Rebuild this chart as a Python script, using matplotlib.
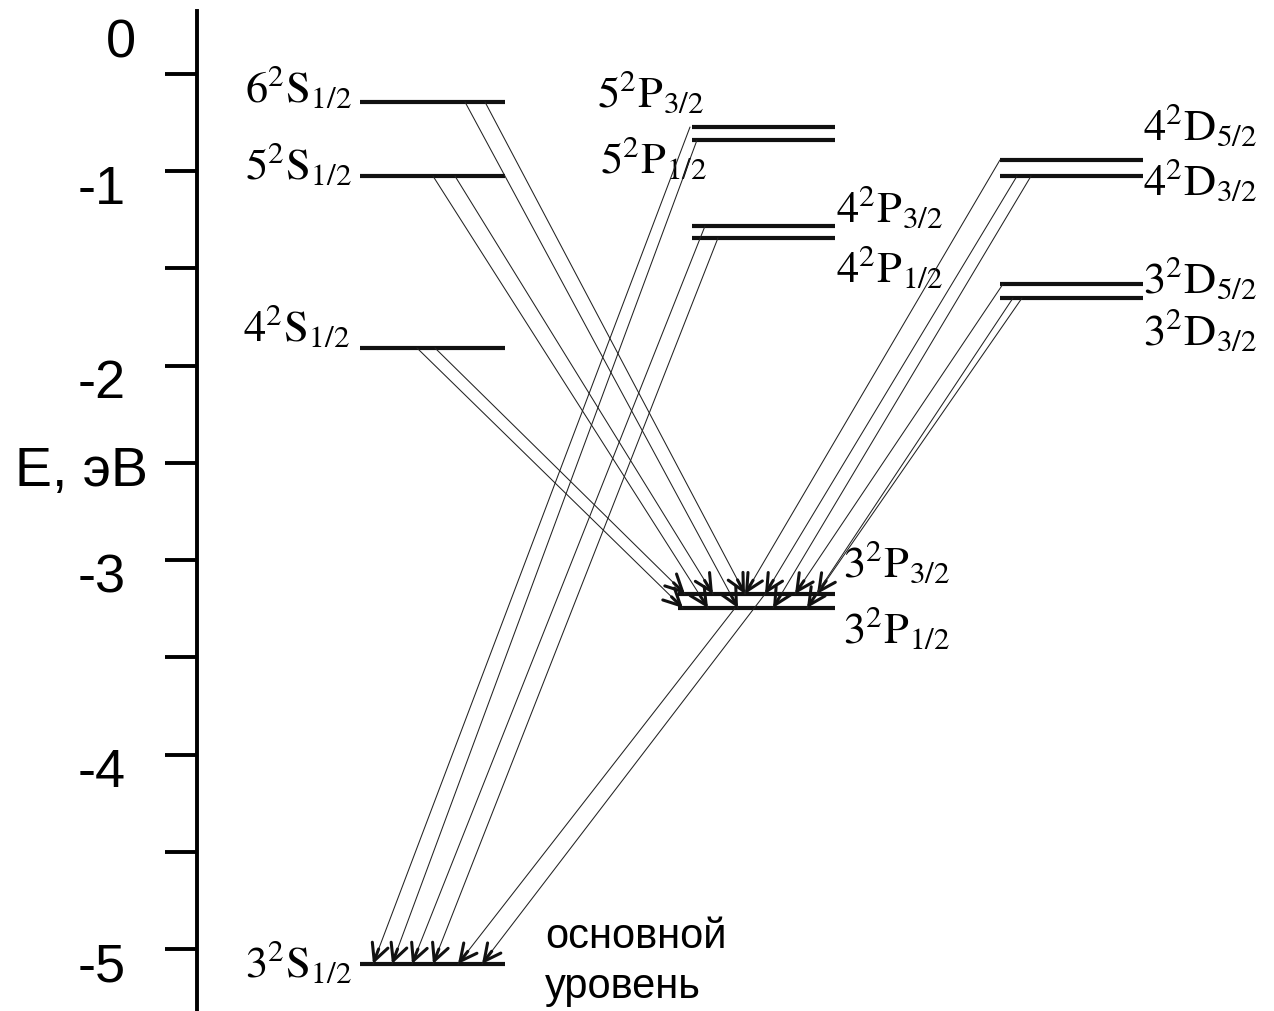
import matplotlib.pyplot as plt
from matplotlib.transforms import ScaledTranslation
import numpy as np

plt.rcParams['mathtext.fontset'] = 'stix'
plt.rcParams['font.family'] = ['Liberation Sans', 'DejaVu Sans']

# Na energy levels, eV
level_names = ['3S', '4S', '5S', '6S',
               '3P32', '3P12', '4P32', '4P12', '5P32', '5P12',
               '3D52', '3D32', '4D52', '4D32']
level_energy = [-5.077, -1.910, -1.026, -0.645,
                -3.175, -3.247, -1.283, -1.344, -0.774, -0.841,
                -1.581, -1.653, -0.943, -1.026]
level_labels = [r'$3^2\mathrm{S}_{1/2}$', r'$4^2\mathrm{S}_{1/2}$',
                r'$5^2\mathrm{S}_{1/2}$', r'$6^2\mathrm{S}_{1/2}$',
                r'$3^2\mathrm{P}_{3/2}$', r'$3^2\mathrm{P}_{1/2}$',
                r'$4^2\mathrm{P}_{3/2}$', r'$4^2\mathrm{P}_{1/2}$',
                r'$5^2\mathrm{P}_{3/2}$', r'$5^2\mathrm{P}_{1/2}$',
                r'$3^2\mathrm{D}_{5/2}$', r'$3^2\mathrm{D}_{3/2}$',
                r'$4^2\mathrm{D}_{5/2}$', r'$4^2\mathrm{D}_{3/2}$']

# radiative transitions: upper level -> lower level
trans_upper = ['6S', '6S', '5S', '5S', '4S', '4S',
               '4D52', '4D32', '4D32', '3D52', '3D32', '3D32',
               '5P32', '5P12', '4P32', '4P12', '3P32', '3P12']
trans_lower = ['3P32', '3P12', '3P32', '3P12', '3P32', '3P12',
               '3P32', '3P32', '3P12', '3P32', '3P32', '3P12',
               '3S', '3S', '3S', '3S', '3S', '3S']

major_ticks = [-1, -2, -3, -4, -5]
minor_ticks = [-0.5, -1.5, -2.5, -3.5, -4.5]
tick_labels = ['-1', '-2', '-3', '-4', '-5']

# ---- layout (pixels of the 1274x1012 canvas) ----
S_COL, P_COL, P3_COL, D_COL = (360, 505), (692, 835), (678, 835), (1000, 1143)
level_x = {'3S': S_COL, '4S': S_COL, '5S': S_COL, '6S': S_COL,
           '3P32': P3_COL, '3P12': P3_COL, '4P32': P_COL, '4P12': P_COL,
           '5P32': P_COL, '5P12': P_COL,
           '3D52': D_COL, '3D32': D_COL, '4D52': D_COL, '4D32': D_COL}
# label anchor x, vertical shift (px, up positive) of baseline, alignment
label_pos = {'6S': (352, 1, 'right'), '5S': (352, -2, 'right'),
             '4S': (350, 8, 'right'), '3S': (352, -12, 'right'),
             '5P32': (704, 21, 'right'), '5P12': (707, -32, 'right'),
             '4P32': (836, 5, 'left'), '4P12': (836, -43, 'left'),
             '4D52': (1143, 21, 'left'), '4D32': (1143, -18, 'left'),
             '3D52': (1143, -8, 'left'), '3D32': (1143, -46, 'left'),
             '3P32': (843, 18, 'left'), '3P12': (843, -34, 'left')}
trans_x0 = [485, 465, 455, 433, 435, 417,
            1000, 1017, 1031, 1003, 1022, 1013,
            690, 697, 705, 718, 765, 735]
trans_x1 = [745, 738, 713, 708, 685, 683,
            745, 765, 773, 795, 817, 807,
            373, 392, 412, 433, 482, 458]

W, H = 1274, 1012
PX_PER_EV = 194.5
Y_TOP = -1 + 172 / PX_PER_EV
Y_BOT = -1 - (H - 172) / PX_PER_EV


def ev(ypx):
    return -1 - (ypx - 172) / PX_PER_EV


fig = plt.figure(figsize=(W / 100, H / 100), dpi=100)
ax = fig.add_axes([0, 0, 1, 1])
ax.set_xlim(0, W)
ax.set_ylim(Y_BOT, Y_TOP)

for s in ['top', 'right', 'bottom']:
    ax.spines[s].set_visible(False)
ax.spines['left'].set_position(('data', 197))
ax.spines['left'].set_bounds(Y_BOT, ev(12))
ax.spines['left'].set_linewidth(2.8)
ax.set_xticks([])
ax.set_yticks(major_ticks, tick_labels)
ax.set_yticks(minor_ticks, minor=True)
ax.tick_params(axis='y', which='both', direction='out', length=23, width=2.8,
               labelsize=39, pad=28)
for lab in ax.get_yticklabels():
    lab.set_transform(lab.get_transform() + ScaledTranslation(0, -0.12, fig.dpi_scale_trans))

ax.text(121, ev(57), '0', fontsize=39, ha='center', va='baseline')
ax.text(148, ev(486), 'E, эВ', fontsize=40, ha='right', va='baseline')

E = dict(zip(level_names, level_energy))

# levels
for name, lab in zip(level_names, level_labels):
    x0, x1 = level_x[name]
    ax.plot([x0, x1], [E[name], E[name]], color='#111111', lw=3.0,
            solid_capstyle='butt')
    lx, dy, ha = label_pos[name]
    ax.annotate(lab, xy=(lx, E[name]), xytext=(0, dy * 0.72),
                textcoords='offset points', ha=ha, va='baseline', fontsize=32)

# transitions: thin line + bold open head
for up, lo, x0, x1 in zip(trans_upper, trans_lower, trans_x0, trans_x1):
    p0 = np.array([x0, E[up]])
    p1 = np.array([x1, E[lo]])
    ax.annotate('', xy=p1, xytext=p0,
                arrowprops=dict(arrowstyle='-', lw=0.75, color='#222222',
                                shrinkA=0, shrinkB=0))
    d0, d1 = ax.transData.transform([p0, p1])
    u = (d0 - d1) / np.hypot(*(d0 - d1))
    base = ax.transData.inverted().transform(d1 + u * 16)
    ax.annotate('', xy=p1, xytext=base,
                arrowprops=dict(arrowstyle='->,head_length=0.6,head_width=0.3',
                                lw=2.2, color='#111111', mutation_scale=20,
                                shrinkA=0, shrinkB=0))

ax.text(545, ev(962), 'основной\nуровень', fontsize=30, ha='left', va='center',
        linespacing=1.3)

fig.savefig('out.png', dpi=100)
